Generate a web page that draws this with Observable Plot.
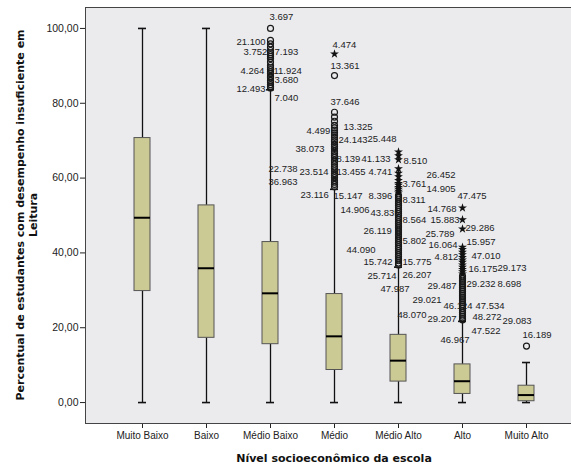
<!DOCTYPE html>
<html><head><meta charset="utf-8">
<script src="https://cdn.jsdelivr.net/npm/d3@7"></script>
<script src="https://cdn.jsdelivr.net/npm/@observablehq/plot@0.6"></script>
<style>
html,body{margin:0;padding:0;background:#fff;}
#chart{width:571px;height:469px;overflow:hidden;position:relative;}
#chart svg{max-width:none !important;height:469px !important;display:block;}
</style></head><body><div id="chart"></div>
<script>
// ---- data ----
const categories = ["Muito Baixo","Baixo","Médio Baixo","Médio","Médio Alto","Alto","Muito Alto"];
const whiskerLow  = [0, 0, 0, 0, 0, 0, 0];
const q1          = [29.8, 17.3, 15.6, 8.7, 5.6, 2.3, 0.35];
const median      = [49.4, 35.9, 29.2, 17.7, 11.2, 5.7, 2.0];
const q3          = [70.7, 52.7, 42.9, 29.0, 18.1, 10.2, 4.5];
const whiskerHigh = [100, 100, 83.6, 57.0, 36.2, 21.7, 10.7];

const circlesMedioBaixo = [100.0, 96.8, 95.9, 95.0, 94.1, 93.5, 93.0, 92.5, 92.0, 91.0, 90.1, 89.5, 89.0, 88.4, 87.9, 87.2, 86.8, 86.1, 85.6, 85.0, 84.5, 84.1];
const circlesMedio = [87.4, 77.6, 76.3, 75.2, 74.1, 73.4, 72.8, 72.1, 71.5, 70.9, 70.2, 69.7, 69.0, 68.4, 67.9, 67.2, 66.6, 66.0, 65.5, 64.8, 64.3, 63.7, 63.0, 62.5, 61.9, 61.2, 60.7, 60.1, 59.4, 58.9, 58.3, 57.7];
const starsMedio = [93.2];
const circlesMedioAlto = [36.8, 37.3, 37.9, 38.4, 39.0, 39.5, 40.1, 40.6, 41.2, 41.7, 42.3, 42.8, 43.4, 43.9, 44.5, 45.0, 45.6, 46.1, 46.7, 47.2, 47.8, 48.3, 48.9, 49.4, 50.0, 50.5, 51.1, 51.6, 52.2, 52.7, 53.3, 53.8, 54.4, 54.9, 55.4];
const starsMedioAlto = [56.0, 56.5, 57.0, 57.5, 58.1, 58.6, 59.4, 60.4, 61.3, 62.5, 64.9, 66.0, 67.0];
const circlesAlto = [22.1, 22.6, 23.1, 23.6, 24.1, 24.6, 25.2, 25.7, 26.2, 26.7, 27.2, 27.7, 28.2, 28.7, 29.2, 29.7, 30.2, 30.7, 31.2, 31.7, 32.2, 32.7, 33.2, 33.8];
const starsAlto = [34.4, 35.0, 35.6, 36.2, 36.8, 37.5, 38.1, 38.8, 39.5, 40.2, 40.9, 41.5, 46.4, 48.9, 52.0];
const circlesMuitoAlto = [15.1];

// outlier case labels, one group per category
const labelTextsMedioBaixo  = ["3.697","21.100","3.752","7.193","4.264","11.924","3.680","12.493","7.040","22.738","36.963"];
const labelValuesMedioBaixo = [103.2, 96.5, 93.6, 93.6, 88.7, 88.7, 86.1, 83.7, 81.5, 62.5, 59.1];
const labelTextsMedio  = ["4.474","13.361","37.646","4.499","13.325","24.143","38.073","8.139","23.514","13.455","23.116","15.147","14.906","44.090"];
const labelValuesMedio = [95.7, 90.1, 80.3, 72.7, 73.8, 70.3, 67.9, 65.2, 61.6, 61.6, 55.6, 55.1, 51.6, 40.9];
const labelTextsMedioAlto  = ["25.448","41.133","8.510","4.741","3.761","8.396","8.311","43.835","8.564","26.119","5.802","15.742","15.775","25.714","26.207","47.987","29.021","48.070"];
const labelValuesMedioAlto = [70.4, 65.2, 64.6, 61.6, 58.5, 55.3, 54.1, 50.7, 48.9, 45.8, 43.2, 37.6, 37.6, 33.8, 34.1, 30.3, 27.3, 23.3];
const labelTextsAlto  = ["26.452","14.905","47.475","14.768","15.883","29.286","25.789","15.957","16.064","47.010","4.812","16.175","29.232","29.487","46.124","47.534","48.272","29.207","47.522","46.967"];
const labelValuesAlto = [60.9, 57.1, 55.3, 51.7, 48.9, 46.6, 45.0, 42.9, 42.0, 39.2, 38.9, 35.7, 31.7, 31.3, 25.9, 25.9, 22.9, 22.3, 19.2, 16.6];
const labelTextsMuitoAlto  = ["29.173","8.698","29.083","16.189"];
const labelValuesMuitoAlto = [36.0, 31.7, 21.9, 18.2];

// label placement (horizontal offset from the category centre, px)
const labelDxMedioBaixo = [-1, -34, -27, 4, -30, 3, 4, -34, 4, -2, -2];
const labelDxMedio      = [-2, -4, -4, -28, 9, 4, -39, 2, -35, 2, -34, -1, 6, 12];
const labelDxMedioAlto  = [-31, -37, 5, -30, 4, -30, 4, -28, 4, -35, 4, -35, 4, -31, 4, -18, 14, -1];
const labelDxAlto       = [-36, -36, -5, -35, -32, 3, -37, 4, -34, 9, -28, 6, 4, -35, -19, 13, 10, -35, 9, -22];
const labelDxMuitoAlto  = [-29, -29, -24, -4];

// ---- tables ----
const boxes = categories.map((c, i) => ({cat: c, lo: whiskerLow[i], q1: q1[i], med: median[i], q3: q3[i], hi: whiskerHigh[i]}));
const circles = [
  ...circlesMedioBaixo.map(v => ({cat: "Médio Baixo", v})),
  ...circlesMedio.map(v => ({cat: "Médio", v})),
  ...circlesMedioAlto.map(v => ({cat: "Médio Alto", v})),
  ...circlesAlto.map(v => ({cat: "Alto", v})),
  ...circlesMuitoAlto.map(v => ({cat: "Muito Alto", v}))
];
const stars = [
  ...starsMedio.map(v => ({cat: "Médio", v})),
  ...starsMedioAlto.map(v => ({cat: "Médio Alto", v})),
  ...starsAlto.map(v => ({cat: "Alto", v}))
];
const group = (cat, texts, values, dxs) => texts.map((t, i) => ({cat, t, v: values[i], dx: dxs[i]}));
const labels = [
  ...group("Médio Baixo", labelTextsMedioBaixo, labelValuesMedioBaixo, labelDxMedioBaixo),
  ...group("Médio", labelTextsMedio, labelValuesMedio, labelDxMedio),
  ...group("Médio Alto", labelTextsMedioAlto, labelValuesMedioAlto, labelDxMedioAlto),
  ...group("Alto", labelTextsAlto, labelValuesAlto, labelDxAlto),
  ...group("Muito Alto", labelTextsMuitoAlto, labelValuesMuitoAlto, labelDxMuitoAlto)
];

const W = 583, H = 469, ML = 85, MR = 0, MT = 7, MB = 46;
const labelFont = "'Liberation Sans', Arial, sans-serif";

const plot = Plot.plot({
  width: W, height: H,
  marginLeft: ML, marginRight: MR, marginTop: MT, marginBottom: MB,
  style: {fontFamily: labelFont, fontSize: "10px", color: "#222", background: "transparent", maxWidth: "none"},
  x: {type: "band", domain: categories, range: [110, 558], paddingInner: 0.75, paddingOuter: 0.375, align: 0.5, label: null},
  y: {domain: [-5.6, 105.6], label: null},
  marks: [
    Plot.frame({fill: "#ebebee", stroke: null}),
    Plot.axisY({ticks: [0, 20, 40, 60, 80, 100], tickFormat: d => d.toFixed(2).replace(".", ","), tickSize: 5, tickPadding: 2, label: null, fontSize: 10.5}),
    Plot.axisX({tickSize: 5, tickPadding: 3, label: null, fontSize: 10}),
    Plot.ruleX(boxes, {x: "cat", y1: "lo", y2: "q1", stroke: "#111", strokeWidth: 1.3}),
    Plot.ruleX(boxes, {x: "cat", y1: "q3", y2: "hi", stroke: "#111", strokeWidth: 1.3}),
    Plot.tickY(boxes, {x: "cat", y: "lo", insetLeft: 4, insetRight: 4, stroke: "#111", strokeWidth: 1.6}),
    Plot.tickY(boxes, {x: "cat", y: "hi", insetLeft: 4, insetRight: 4, stroke: "#111", strokeWidth: 1.6}),
    Plot.barY(boxes, {x: "cat", y1: "q1", y2: "q3", fill: "#cbc994", stroke: "#555", strokeWidth: 1}),
    Plot.tickY(boxes, {x: "cat", y: "med", stroke: "#000", strokeWidth: 2}),
    ...labels.map(l => Plot.text([l], {x: "cat", y: "v", text: "t", dx: l.dx, textAnchor: "start", fontSize: 9.5, fill: "#222"})),
    Plot.dot(circles, {x: "cat", y: "v", r: 3, stroke: "#1a1a1a", fill: "none", strokeWidth: 1.2}),
    Plot.dot(stars, {x: "cat", y: "v", r: 2.8, symbol: "star", fill: "#111", stroke: null}),
    Plot.frame({stroke: "#444", strokeWidth: 1})
  ]
});
plot.style.maxWidth = "none";
plot.style.height = H + "px";

const svg = d3.select(plot);
const titleFont = "'DejaVu Sans', Verdana, sans-serif";
svg.append("text")
  .attr("x", (ML + (W - MR)) / 2).attr("y", H - 11)
  .attr("text-anchor", "middle").attr("dominant-baseline", "central")
  .attr("font-family", titleFont).attr("font-weight", "bold").attr("font-size", 11).attr("fill", "#111")
  .text("Nível socioeconômico da escola");
const g = svg.append("g").attr("transform", `translate(26.5, ${(MT + (H - MB)) / 2}) rotate(-90)`);
g.append("text").attr("x", 0).attr("y", -6.5)
  .attr("text-anchor", "middle").attr("dominant-baseline", "central")
  .attr("font-family", titleFont).attr("font-weight", "bold").attr("font-size", 11).attr("fill", "#111")
  .text("Percentual de estudantes com desempenho insuficiente em");
g.append("text").attr("x", 0).attr("y", 6.5)
  .attr("text-anchor", "middle").attr("dominant-baseline", "central")
  .attr("font-family", titleFont).attr("font-weight", "bold").attr("font-size", 11).attr("fill", "#111")
  .text("Leitura");

document.getElementById("chart").appendChild(plot);
</script></body></html>
